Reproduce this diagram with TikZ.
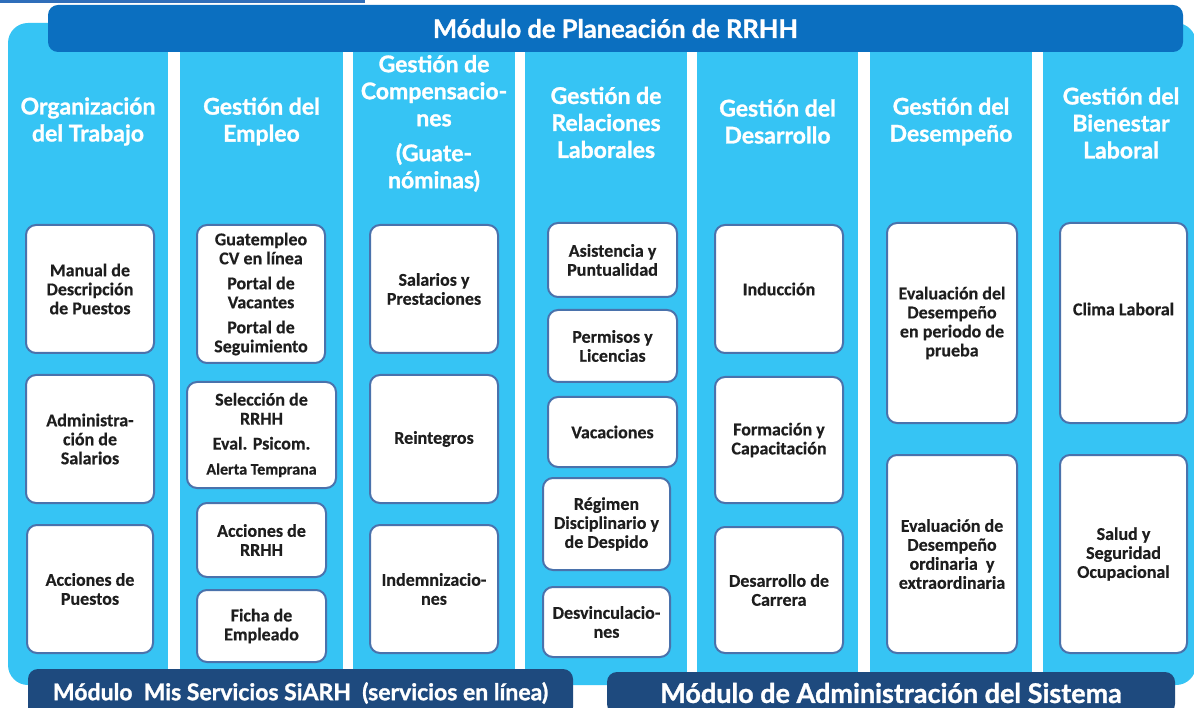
\documentclass[tikz,border=0pt]{standalone}
\usepackage{fontspec}
\setmainfont{Carlito}[BoldFeatures={FakeBold=0.4}]
\newfontfamily\hdr{Lato}[BoldFeatures={FakeBold=1.2}]
\definecolor{sky}{HTML}{36C4F4}
\definecolor{topbar}{HTML}{0B6FC0}
\definecolor{navy}{HTML}{1E4A7E}
\definecolor{bord}{HTML}{4A72AC}
\definecolor{topline}{HTML}{2F6EBA}
\definecolor{ink}{HTML}{1E1E1E}
\begin{document}
\begin{tikzpicture}[x=1pt,y=-1pt,
  cell/.style={draw=bord, line width=2pt, fill=white, rounded corners=10pt,
    align=center, inner sep=0pt, text=ink,
    font=\bfseries\fontsize{18}{19}\selectfont},
  head/.style={align=center, text=white, inner sep=0pt,
    font=\hdr\bfseries\fontsize{23}{27}\selectfont},
  strip/.style={fill=white},
  bar/.style={rounded corners=10pt, inner sep=0pt, text=white}
]
\useasboundingbox (0,0) rectangle (1194,708);
\fill[white] (0,0) rectangle (1194,708);
\draw[topline, line width=2.5pt] (0,1.3) -- (365,1.3);
% background panel
\fill[sky, rounded corners=20pt] (8,23) rectangle (1196,685);
% white separators
\foreach \a/\b in {168/180, 343/353, 515/525, 687/697, 858/870, 1032/1043}
  \fill[strip] (\a,52) rectangle (\b,672);
% title bar
\node[bar, fill=topbar, minimum width=1135pt, minimum height=47pt,
  font=\hdr\bfseries\fontsize{25.5}{28}\selectfont] (title) at (615.5,28.5) {Módulo de Planeación de RRHH};
% bottom bars
\node[bar, fill=navy, minimum width=545pt, minimum height=48pt,
  font=\hdr\bfseries\fontsize{23}{26}\selectfont] (mis) at (300.5,693) {Módulo\ \ Mis Servicios SiARH\ \ (servicios en línea)};
\node[bar, fill=navy, minimum width=568pt, minimum height=42pt,
  font=\hdr\bfseries\fontsize{27}{30}\selectfont] (adm) at (891,693) {Módulo de Administración del Sistema};
% headers
\node[head] (h1) at (88,121.5) {Organización\\del Trabajo};
\node[head] (h2) at (261.5,121.5) {Gestión del\\Empleo};
\node[head] (h3) at (434,123.5) {Gestión de\\Compensacio-\\nes\\[8pt](Guate-\\nóminas)};
\node[head] (h4) at (606,122.5) {Gestión de\\Relaciones\\Laborales};
\node[head] (h5) at (777.5,121.5) {Gestión del\\Desarrollo};
\node[head] (h6) at (951,121.5) {Gestión del\\Desempeño};
\node[head] (h7) at (1121,123) {Gestión del\\Bienestar\\Laboral};
% column 1
\node[cell, minimum width=128pt, minimum height=128pt] (c1a) at (90,289) {Manual de\\Descripción\\de Puestos};
\node[cell, minimum width=128pt, minimum height=128pt] (c1b) at (90,439) {Administra-\\ción de\\Salarios};
\node[cell, minimum width=126pt, minimum height=128pt] (c1c) at (90,589) {Acciones de\\Puestos};
% column 2
\node[cell, minimum width=128pt, minimum height=138pt] (c2a) at (261,294) {Guatempleo\\CV en línea\\[6pt]Portal de\\Vacantes\\[6pt]Portal de\\Seguimiento};
\node[cell, minimum width=149pt, minimum height=106pt] (c2b) at (261.5,435) {Selección de\\RRHH\\[6pt]Eval. Psicom.\\[6pt]{\fontsize{16}{19}\selectfont Alerta Temprana}};
\node[cell, minimum width=129pt, minimum height=74pt] (c2c) at (261.5,540) {Acciones de\\RRHH};
\node[cell, minimum width=129pt, minimum height=72pt] (c2d) at (261.5,626) {Ficha de\\Empleado};
% column 3
\node[cell, minimum width=128pt, minimum height=128pt] (c3a) at (434,289) {Salarios y\\Prestaciones};
\node[cell, minimum width=128pt, minimum height=128pt] (c3b) at (434,439) {Reintegros};
\node[cell, minimum width=128pt, minimum height=128pt] (c3c) at (434,589) {Indemnizacio-\\nes};
% column 4
\node[cell, minimum width=129pt, minimum height=74pt] (c4a) at (612.5,260) {Asistencia y\\Puntualidad};
\node[cell, minimum width=129pt, minimum height=72pt] (c4b) at (612.5,346) {Permisos y\\Licencias};
\node[cell, minimum width=129pt, minimum height=70pt] (c4c) at (612.5,432) {Vacaciones};
\node[cell, minimum width=127pt, minimum height=92pt] (c4d) at (606.5,524) {Régimen\\Disciplinario y\\de Despido};
\node[cell, minimum width=127pt, minimum height=70pt] (c4e) at (606.5,622) {Desvinculacio-\\nes};
% column 5
\node[cell, minimum width=128pt, minimum height=128pt] (c5a) at (779,289) {Inducción};
\node[cell, minimum width=128pt, minimum height=126pt] (c5b) at (779,440) {Formación y\\Capacitación};
\node[cell, minimum width=128pt, minimum height=126pt] (c5c) at (779,590) {Desarrollo de\\Carrera};
% column 6
\node[cell, minimum width=130pt, minimum height=200pt] (c6a) at (952,323) {Evaluación del\\Desempeño\\en periodo de\\prueba};
\node[cell, minimum width=130pt, minimum height=198pt] (c6b) at (952,554) {Evaluación de\\Desempeño\\ordinaria\ \ y\\extraordinaria};
% column 7
\node[cell, minimum width=127pt, minimum height=200pt] (c7a) at (1123.5,323) {\raisebox{14pt}[\height][\depth]{Clima Laboral}};
\node[cell, minimum width=127pt, minimum height=198pt] (c7b) at (1123.5,554) {Salud y\\Seguridad\\Ocupacional};
\end{tikzpicture}
\end{document}
